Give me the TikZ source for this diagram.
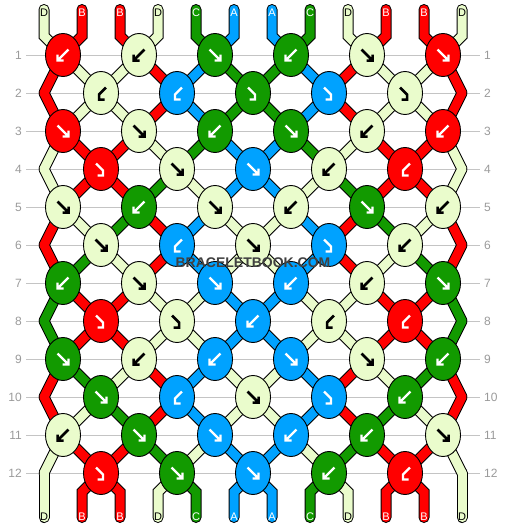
\documentclass[tikz,border=0pt]{standalone}
\usepackage{fontspec}
\setmainfont{Liberation Sans}
\usepackage{tikz}
\usetikzlibrary{shapes.geometric}
\definecolor{strandA}{HTML}{00A2FF}
\definecolor{strandB}{HTML}{FF0000}
\definecolor{strandC}{HTML}{129A00}
\definecolor{strandD}{HTML}{EAFCCC}
\definecolor{rowgray}{HTML}{C4C4C4}
\definecolor{numgray}{HTML}{9A9A9A}

\begin{document}
\begin{tikzpicture}[x=1pt,y=-1pt]
\useasboundingbox (0,0) rectangle (506,528);

\def\ytop{55}
\def\dy{38}

\tikzset{
  knot/.style={ellipse, draw=black, line width=0.9pt, minimum width=35pt, minimum height=43pt, inner sep=0pt},
  seg1/.style={draw=black, line width=11pt, line cap=round},
  seg2/.style={draw=strand#1, line width=9pt, line cap=round},
  darkarr/.style={draw=white, line width=2.2pt, preaction={draw=black, line width=3.8pt}},
  litearr/.style={draw=black, line width=2.5pt},
  arrA/.style={darkarr}, arrB/.style={darkarr}, arrC/.style={darkarr}, arrD/.style={litearr},
  lblA/.style={text=white}, lblB/.style={text=white}, lblC/.style={text=white}, lblD/.style={text=black},
  rownum/.style={text=numgray, font=\fontsize{12}{14}\selectfont, inner sep=0pt},
  endlbl/.style={font=\fontsize{11}{13}\selectfont, inner sep=0pt},
  fwd/.pic={\path[pic actions] (-5.5,-5.5) -- (5,5) (5.5,-0.5) -- (5.5,5.5) -- (-0.5,5.5);},
  bwd/.pic={\path[pic actions] (5.5,-5.5) -- (-5,5) (-5.5,-0.5) -- (-5.5,5.5) -- (0.5,5.5);},
  fbk/.pic={\path[pic actions] (-5,-5.5) -- (2,1.5) -- (2,6.5) -- (-3.5,6.5);},
  bfk/.pic={\path[pic actions] (5,-5.5) -- (-2,1.5) -- (-2,6.5) -- (3.5,6.5);}
}

% Reihen: Nummern, Linien, Knotenpunkte
\foreach \r in {1,...,12}{
  \pgfmathsetmacro\y{\ytop+\dy*(\r-1)}
  \node[rownum, anchor=east] (nl\r) at (22,\y) {\r};
  \node[rownum, anchor=west] (nr\r) at (484,\y) {\r};
  \draw[rowgray, line width=1pt] ([xshift=4pt]nl\r.east) -- ([xshift=-4pt]nr\r.west);
  \ifodd\r\relax
    \foreach \j in {1,...,6} \coordinate (k\r-\j) at ({63+76*(\j-1)},\y);
  \else
    \foreach \j in {1,...,5} \coordinate (k\r-\j) at ({101+76*(\j-1)},\y);
    \coordinate (k\r-0) at (44,\y);
    \coordinate (k\r-6) at (462,\y);
  \fi
}

% Fadenenden oben und unten
\foreach \c [count=\p] in {D,B,B,D,C,A,A,C,D,B,B,D}{
  \coordinate (top\p) at ({44+38*(\p-1)},9.5);
  \coordinate (bot\p) at ({44+38*(\p-1)},517.5);
}

% Faeden: erst Rand schwarz, dann Farbe
\foreach \pass in {1,2}{
  \foreach \c [count=\p] in {D,B,B,D,C,A,A,C,D,B,B,D}{
    \pgfmathtruncatemacro\ja{(\p+1)/2}
    \pgfmathtruncatemacro\jb{\p/2}
    \draw[seg\pass=\c] (top\p) -- ++(0,26.5) -- (k1-\ja);
    \draw[seg\pass=\c] (bot\p) -- ++(0,-25.5) -- (k12-\jb);
  }
  \foreach \r/\cols in {1/{B,D,D,B,A,C,C,A,B,D,D,B},
                        2/{B,D,D,B,A,C,C,A,B,D,D,B},
                        3/{D,B,B,D,C,A,A,C,D,B,B,D},
                        4/{D,B,B,C,D,A,A,D,C,B,B,D},
                        5/{B,D,C,B,A,D,D,A,B,C,D,B},
                        6/{B,C,D,B,A,D,D,A,B,D,C,B},
                        7/{C,B,B,D,D,A,A,D,D,B,B,C},
                        8/{C,B,B,D,D,A,A,D,D,B,B,C},
                        9/{B,C,D,B,A,D,D,A,B,D,C,B},
                        10/{B,D,C,B,A,D,D,A,B,C,D,B},
                        11/{D,B,B,C,D,A,A,D,C,B,B,D}}{
    \pgfmathtruncatemacro\rr{\r+1}
    \foreach \c [count=\p] in \cols{
      \pgfmathtruncatemacro\ja{isodd(\r) ? (\p+1)/2 : \p/2}
      \pgfmathtruncatemacro\jb{isodd(\rr) ? (\p+1)/2 : \p/2}
      \draw[seg\pass=\c] (k\r-\ja) -- (k\rr-\jb);
    }
  }
}

% Knoten mit Pfeilen
\foreach \r/\list in {1/{bwd/B,bwd/D,fwd/C,bwd/C,fwd/D,fwd/B},
                      2/{bfk/D,bfk/A,fbk/C,fbk/A,fbk/D},
                      3/{fwd/B,fwd/D,bwd/C,fwd/C,bwd/D,bwd/B},
                      4/{fbk/B,fwd/D,fwd/A,bwd/D,bfk/B},
                      5/{fwd/D,bwd/C,fwd/D,bwd/D,fwd/C,bwd/D},
                      6/{fwd/D,bfk/A,fwd/D,fbk/A,bwd/D},
                      7/{bwd/C,fwd/D,fwd/A,bwd/A,bwd/D,fwd/C},
                      8/{fbk/B,fbk/D,bwd/A,bfk/D,bfk/B},
                      9/{fwd/C,bwd/D,bwd/A,fwd/A,fwd/D,bwd/C},
                      10/{fwd/C,bfk/A,fwd/D,fbk/A,bwd/C},
                      11/{bwd/D,fwd/C,fwd/A,bwd/A,bwd/C,fwd/D},
                      12/{fbk/B,fwd/C,fwd/A,bwd/C,bfk/B}}{
  \foreach \t/\c [count=\j] in \list{
    \node[knot, fill=strand\c] (n\r-\j) at (k\r-\j) {};
    \pic[arr\c] at (k\r-\j) {\t};
  }
}

% Buchstaben an den Enden
\foreach \c [count=\p] in {D,B,B,D,C,A,A,C,D,B,B,D}{
  \node[endlbl, lbl\c] (tl\p) at ({44+38*(\p-1)},13) {\c};
  \node[endlbl, lbl\c] (bl\p) at ({44+38*(\p-1)},517) {\c};
}

\node[font=\bfseries\fontsize{14}{16}\selectfont, text=black!75, inner sep=0pt] (wm) at (253,263) {BRACELETBOOK.COM};
\end{tikzpicture}
\end{document}
